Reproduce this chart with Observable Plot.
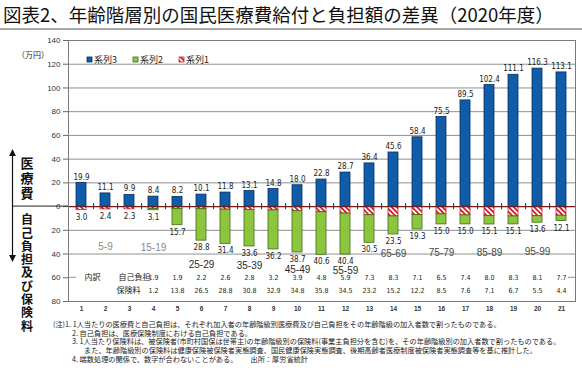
<!DOCTYPE html>
<html><head><meta charset="utf-8">
<script src="https://cdn.jsdelivr.net/npm/d3@7"></script>
<script src="https://cdn.jsdelivr.net/npm/@observablehq/plot@0.6"></script>
<style>
body{margin:0;width:582px;height:371px;overflow:hidden;background:#fff;position:relative;font-family:"Noto Sans CJK JP","Noto Sans",sans-serif;}
#title{position:absolute;left:3px;top:1px;font-size:18.5px;line-height:26px;color:#111;white-space:nowrap;}
#rule{position:absolute;left:0;top:28px;width:582px;height:0;border-top:2px solid #a8a8a8;}
#chart{position:absolute;left:0;top:0;}
#notes{position:absolute;left:0;top:320px;font-size:7.2px;line-height:8.7px;color:#222;white-space:pre;}
</style></head><body>
<div id="chart"></div>
<div id="title">図表2、年齢階層別の国民医療費給付と負担額の差異（2020年度）</div>
<div id="rule"></div>
<div id="notes"><div style="padding-left:53px">(注)1. 1人当たりの医療費と自己負担は、それぞれ加入者の年齢階級別医療費及び自己負担をその年齢階級の加入者数で割ったものである。</div><div style="padding-left:72px">2. 自己負担は、医療保険制度における自己負担である。</div><div style="padding-left:72px">3. 1人当たり保険料は、被保険者(市町村国保は世帯主)の年齢階級別の保険料(事業主負担分を含む)を、その年齢階級別の加入者数で割ったものである。</div><div style="padding-left:84px">また、年齢階級別の保険料は健康保険被保険者実態調査、国民健康保険実態調査、後期高齢者医療制度被保険者実態調査等を基に推計した。</div><div style="padding-left:72px">4. 端数処理の関係で、数字が合わないことがある。<span style="margin-left:13px">出所：厚労省統計</span></div></div>
<script>
// ---- data ----
const categories = [1,2,3,4,5,6,7,8,9,10,11,12,13,14,15,16,17,18,19,20,21];
const series3Medical = [19.9,11.1,9.9,8.4,8.2,10.1,11.8,13.1,14.8,18.0,22.8,28.7,36.4,45.6,58.4,75.5,89.5,102.4,111.1,116.3,113.1];
const series1SelfPay = [3.0,2.4,2.3,1.9,1.9,2.2,2.6,2.8,3.2,3.9,4.8,5.9,7.3,8.3,7.1,6.5,7.4,8.0,8.3,8.1,7.7];
const series2Premium = [0,0,0,1.2,13.8,26.5,28.8,30.8,32.9,34.8,35.8,34.5,23.2,15.2,12.2,8.5,7.6,7.1,6.7,5.5,4.4];
const burdenTotal = [3.0,2.4,2.3,3.1,15.7,28.8,31.4,33.6,36.2,38.7,40.6,40.4,30.5,23.5,19.3,15.0,15.0,15.1,15.1,13.6,12.1];
const ageGroups = ["5-9","15-19","25-29","35-39","45-49","55-59","65-69","75-79","85-89","95-99"];
const ageGroupCats = [2,4,6,8,10,12,14,16,18,20];
const yTicks = [-80,-60,-40,-20,0,20,40,60,80,100,120,140];
const seriesNames = ["系列3","系列2","系列1"];

// ---- layout (px below the top of the frame) ----
const ageDy = [202,203,220,221,225,226,209,208,208,207];
const ageColor = ["#8a8a8a","#8a8a8a","#2a2a2a","#2a2a2a","#2a2a2a","#2a2a2a","#4a4a4a","#4a4a4a","#4a4a4a","#4a4a4a"];

const rows = categories.map((c,i)=>({cat:c, med:series3Medical[i], sp:series1SelfPay[i], pr:series2Premium[i], tot:burdenTotal[i]}));
const ages = ageGroups.map((a,i)=>({cat:ageGroupCats[i], label:a, dy:ageDy[i], color:ageColor[i]}));

const W=582, ML=68, MR=7;
const step=(W-ML-MR)/categories.length;
const numFont='"Liberation Sans Narrow","DejaVu Sans Condensed","Arial Narrow","Liberation Sans",sans-serif';
const jpFont='"Noto Sans CJK JP",sans-serif';
const fmt = v=>v.toFixed(1);

const plot = Plot.plot({
  width:W, height:318, marginTop:40, marginBottom:17, marginLeft:ML, marginRight:MR,
  style:{background:"transparent", overflow:"visible", fontFamily:'"Liberation Sans",Arial,sans-serif'},
  x:{type:"band", domain:categories, paddingInner:0.58, paddingOuter:0.29, label:null},
  y:{domain:[-80,140], label:null},
  marks:[
    Plot.ruleY(yTicks.filter(t=>t>-60 && t<140 && t!==0), {stroke:"#8f8f8f", strokeWidth:1}),
    Plot.barY(rows, {x:"cat", y1:0, y2:"med", fill:"#0F5CA8", stroke:"#0A2E5C", strokeWidth:0.8}),
    Plot.barY(rows, {x:"cat", y1:0, y2:d=>-d.sp, fill:"url(#hatch)", stroke:"#C8232C", strokeWidth:0.8}),
    Plot.barY(rows.filter(d=>d.pr>0), {x:"cat", y1:d=>-d.sp, y2:d=>-(d.sp+d.pr), fill:"#8CC63E", stroke:"#3F6B14", strokeWidth:0.8}),
    Plot.ruleY([0], {stroke:"#6e1c1c", strokeWidth:1.2}),
    Plot.ruleX(categories.slice(0,-1), {x:d=>d, y1:-2.6, y2:2.6, dx:step/2, stroke:"#333", strokeWidth:1}),
    Plot.text(rows, {x:"cat", y:"med", text:d=>fmt(d.med), dy:-6, fontSize:8, fill:"#222", fontFamily:numFont}),
    Plot.text(rows, {x:"cat", y:d=>-d.tot, text:d=>fmt(d.tot), dy:7, fontSize:8, fill:"#222", fontFamily:numFont}),
    ...ages.map(a=>Plot.text([a], {x:"cat", frameAnchor:"top", dy:a.dy, text:"label", fontSize:10, fill:a.color})),
    Plot.text(rows.filter(d=>d.pr>0), {x:"cat", y:-60, text:d=>fmt(d.sp), fontSize:7, fill:"#222", fontFamily:numFont}),
    Plot.text(rows.filter(d=>d.pr>0), {x:"cat", y:-71, text:d=>fmt(d.pr), fontSize:7, fill:"#222", fontFamily:numFont}),
    Plot.text(["内訳"], {frameAnchor:"left", y:-60, dx:16, text:d=>d, fontSize:8, fill:"#222", fontFamily:jpFont}),
    Plot.text(["自己負担"], {frameAnchor:"left", y:-60, dx:50, text:d=>d, fontSize:8, fill:"#222", fontFamily:jpFont}),
    Plot.text(["保険料"], {frameAnchor:"left", y:-71, dx:48, text:d=>d, fontSize:8, fill:"#222", fontFamily:jpFont}),
    Plot.frame({stroke:"#7a7a7a"}),
    Plot.axisY({ticks:yTicks, tickFormat:d=>Math.abs(d), tickSize:5, tickPadding:3, fontSize:8, stroke:"#666", fill:"#333", label:null}),
    Plot.axisX({tickSize:0, tickPadding:5, fontSize:6.5, fontWeight:"bold", fill:"#333", label:null})
  ]
});
document.getElementById("chart").appendChild(plot);

const svg = d3.select(plot);
const y = plot.scale("y");

svg.insert("defs", ":first-child").html(
 '<pattern id="hatch" patternUnits="userSpaceOnUse" width="3.6" height="3.6" patternTransform="rotate(-45)">'+
 '<rect width="3.6" height="3.6" fill="#fff"/><rect width="1.8" height="3.6" fill="#D0202A"/></pattern>'+
 '<marker id="ah" viewBox="0 0 10 10" refX="5" refY="5" markerWidth="6" markerHeight="6" orient="auto-start-reverse"><path d="M0,0L10,5L0,10z" fill="#111"/></marker>');

const g = svg.append("g");
// -60 gridline fragments (the breakdown table box hides the rest)
const y60 = y.apply(-60);
g.append("line").attr("x1",ML).attr("x2",ML+8).attr("y1",y60).attr("y2",y60).attr("stroke","#8f8f8f");
g.append("line").attr("x1",W-MR-7).attr("x2",W-MR).attr("y1",y60).attr("y2",y60).attr("stroke","#8f8f8f");
// zero extension to the left
const y0 = y.apply(0);
g.append("line").attr("x1",13).attr("x2",ML).attr("y1",y0).attr("y2",y0).attr("stroke","#222").attr("stroke-width",1);
// arrow
g.append("line").attr("x1",12.5).attr("x2",12.5).attr("y1",y.apply(45)).attr("y2",y.apply(-44))
  .attr("stroke","#111").attr("stroke-width",1.2).attr("marker-start","url(#ah)").attr("marker-end","url(#ah)");
// unit
g.append("text").attr("x",33).attr("y",58).attr("text-anchor","middle").attr("font-size",8).attr("fill","#222")
  .attr("font-family",jpFont).text("（万円）");
// vertical labels
[..."医療費"].forEach((ch,i)=>g.append("text").attr("x",27).attr("y",163+15*i).attr("dy","0.35em").attr("text-anchor","middle")
  .attr("font-size",13).attr("font-weight","bold").attr("fill","#111").attr("font-family",jpFont).text(ch));
[..."自己負担及び保険料"].forEach((ch,i)=>g.append("text").attr("x",27).attr("y",220+13.3*i).attr("dy","0.35em").attr("text-anchor","middle")
  .attr("font-size",12).attr("font-weight","bold").attr("fill","#111").attr("font-family",jpFont).text(ch));
// legend
const legFill = ["#0F5CA8","#8CC63E","url(#hatch)"];
const legStroke = ["#0A2E5C","#3F6B14","#C8232C"];
const legX = [87,133,179];
seriesNames.forEach((n,i)=>{
  g.append("rect").attr("x",legX[i]).attr("y",57).attr("width",5).attr("height",5).attr("fill",legFill[i]).attr("stroke",legStroke[i]).attr("stroke-width",0.8);
  g.append("text").attr("x",legX[i]+7).attr("y",59.5).attr("dy","0.35em").attr("text-anchor","start").attr("font-size",9).attr("fill","#222")
   .attr("font-family",jpFont).text(n);
});
</script>
</body></html>
